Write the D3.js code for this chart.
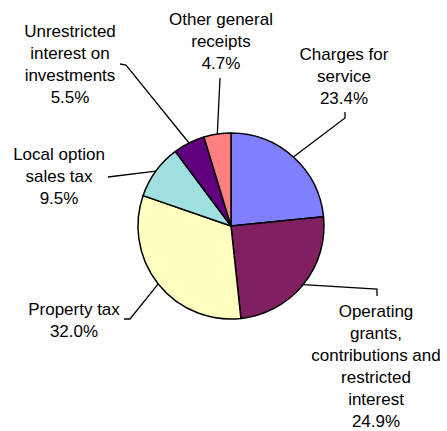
<!DOCTYPE html>
<html>
<head>
<meta charset="utf-8">
<script src="https://cdn.jsdelivr.net/npm/d3@7"></script>
<style>
  body { margin: 0; background: #fff; }
  text { font-family: "Liberation Sans", Arial, sans-serif; font-size: 17px; fill: #000; }
</style>
</head>
<body>
<div id="chart"></div>
<script>
// revenue share pie with leader-line labels

var categories = [
  ["Charges for", "service"],
  ["Operating", "grants,", "contributions and", "restricted", "interest"],
  ["Property tax"],
  ["Local option", "sales tax"],
  ["Unrestricted", "interest on", "investments"],
  ["Other general", "receipts"]
];
var values = [23.4, 24.9, 32.0, 9.5, 5.5, 4.7];
var colors = ["#8080FF", "#802060", "#FFFFC0", "#A0E0E0", "#600080", "#FF8080"];

// label layout: text centre x, first baseline y, leader elbow points
var labelPos = [
  { x: 344, y: 60, leader: [[345, 118], [345, 112]] },
  { x: 376, y: 317, leader: [[377, 289], [377, 296]] },
  { x: 74, y: 315, leader: [[130, 319], [124, 319]] },
  { x: 59, y: 160, leader: [[108, 177]] },
  { x: 70, y: 37, leader: [[126, 65], [120, 64]] },
  { x: 221, y: 25, leader: [[220, 78]] }
];

var width = 447, height = 431;
var cx = 231, cy = 226, radius = 93, lineH = 22;

var svg = d3.select("#chart").append("svg")
    .attr("width", width)
    .attr("height", height);

var pie = d3.pie().sort(null).value(function(d){ return d; });
var arcs = pie(values);
var arc = d3.arc().innerRadius(0).outerRadius(radius);

var g = svg.append("g").attr("transform", "translate(" + cx + "," + cy + ")");

g.selectAll("path.slice")
    .data(arcs)
  .enter().append("path")
    .attr("class", "slice")
    .attr("d", arc)
    .attr("fill", function(d, i){ return colors[i]; })
    .attr("stroke", "#000")
    .attr("stroke-width", 1.5)
    .attr("stroke-linejoin", "round");

// leader lines
arcs.forEach(function(d, i){
    var mid = (d.startAngle + d.endAngle) / 2;
    var pts = [[cx + radius * Math.sin(mid), cy - radius * Math.cos(mid)]].concat(labelPos[i].leader);
    svg.append("path")
	.attr("d", d3.line()(pts))
	.attr("fill", "none")
	.attr("stroke", "#000")
	.attr("stroke-width", 1.3);
});

// labels
categories.forEach(function(lines, i){
    var p = labelPos[i];
    var t = svg.append("text").attr("text-anchor", "middle");
    lines.concat([values[i].toFixed(1) + "%"]).forEach(function(s, k){
	t.append("tspan").attr("x", p.x).attr("y", p.y + k * lineH).text(s);
    });
});
</script>
</body>
</html>
